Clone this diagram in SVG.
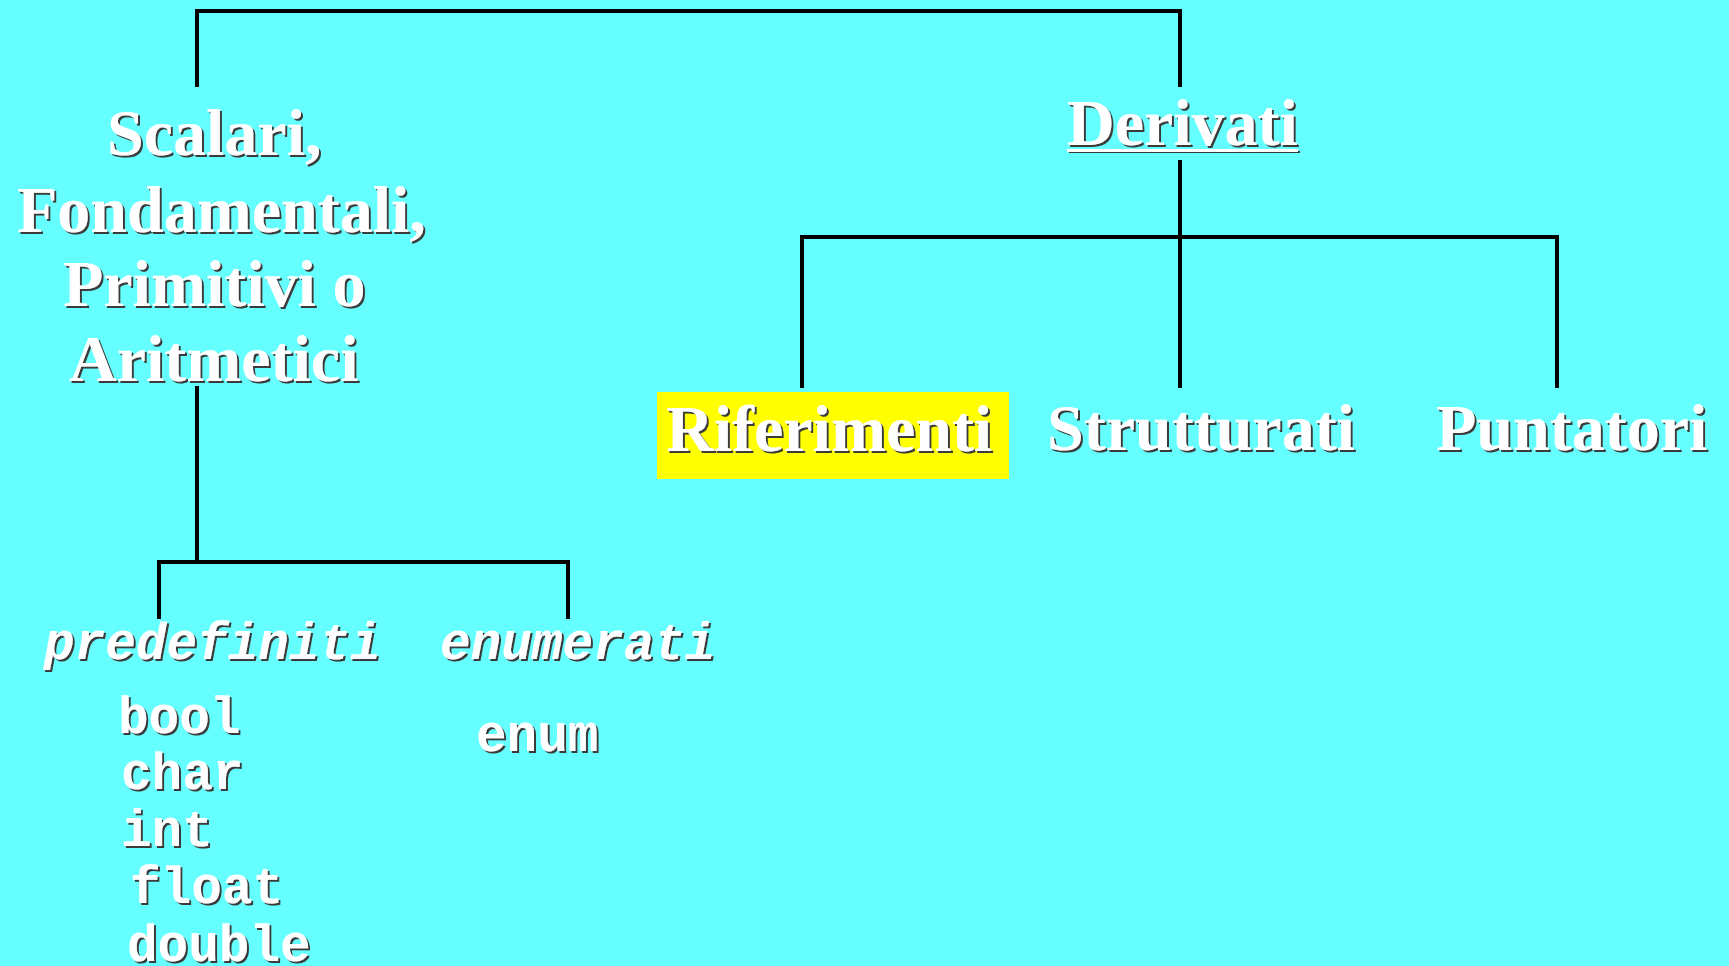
<svg xmlns="http://www.w3.org/2000/svg" width="1729" height="966" viewBox="0 0 1729 966">
<defs>
<filter id="sh" x="-5%" y="-5%" width="110%" height="120%">
<feDropShadow dx="2" dy="2" stdDeviation="0" flood-color="#3a3a3a" flood-opacity="1"/>
</filter>
</defs>
<style>
.t{font-family:"Liberation Serif","Times New Roman",serif;font-weight:bold;font-size:66px;fill:#fff;filter:url(#sh)}
.m{font-family:"Liberation Mono","Courier New",monospace;font-weight:bold;font-size:51px;fill:#fff;filter:url(#sh)}
.mi{font-style:italic}
.c{fill:none;stroke:#000;stroke-width:4;stroke-linecap:square}
</style>
<rect width="1729" height="966" fill="#66FFFF"/>
<g id="connectors">
<path class="c" d="M197,85 V11 H1180 V85"/>
<path class="c" d="M1180,162 V386"/>
<path class="c" d="M802,386 V237 H1557 V386"/>
<path class="c" d="M197,388 V562"/>
<path class="c" d="M159,617 V562 H568 V617"/>
</g>
<g id="scalari">
<text class="t" x="107" y="155">Scalari,</text>
<text class="t" x="17" y="232">Fondamentali,</text>
<text class="t" x="63" y="306">Primitivi o</text>
<text class="t" x="69" y="381">Aritmetici</text>
</g>
<g id="derivati">
<text class="t" x="1067" y="145">Derivati</text>
<rect x="1067" y="149" width="231" height="3" fill="#fff" filter="url(#sh)"/>
</g>
<g id="riferimenti">
<rect x="657" y="392" width="352" height="87" fill="#FFFF00"/>
<text class="t" x="666" y="451">Riferimenti</text>
</g>
<g id="strutturati">
<text class="t" x="1047" y="450">Strutturati</text>
</g>
<g id="puntatori">
<text class="t" x="1436" y="450">Puntatori</text>
</g>
<g id="predefiniti">
<text class="m mi" x="44" y="659">predefiniti</text>
<text class="m" x="118" y="733">bool</text>
<text class="m" x="121" y="789">char</text>
<text class="m" x="121" y="846">int</text>
<text class="m" x="130" y="903">float</text>
<text class="m" x="127" y="961">double</text>
</g>
<g id="enumerati">
<text class="m mi" x="440" y="659">enumerati</text>
<text class="m" x="476" y="751">enum</text>
</g>
</svg>
